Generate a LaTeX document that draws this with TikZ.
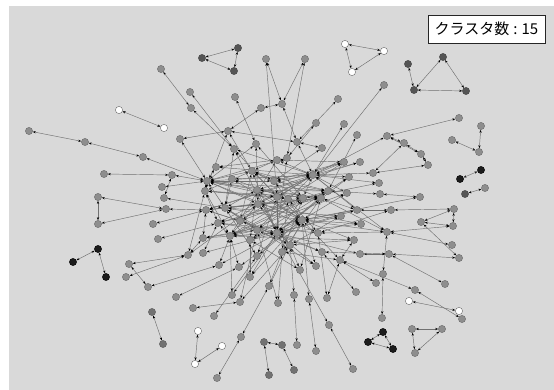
\documentclass[tikz,border=0pt]{standalone}
\usepackage{fontspec}
\newfontfamily\jpfont{Noto Sans CJK JP}
\usetikzlibrary{arrows.meta}

\definecolor{bgcol}{HTML}{D9D9D9}
\definecolor{linkgray}{HTML}{707070}
\definecolor{nodegray}{HTML}{8E8E8E}
\definecolor{rimgray}{HTML}{6A6A6A}
\definecolor{nodedark}{HTML}{555555}
\definecolor{nodemid}{HTML}{727272}
\definecolor{nodeblack}{HTML}{1C1C1C}

\pgfdeclarelayer{edges}
\pgfsetlayers{edges,main}

\tikzset{
  vtx/.style={circle, inner sep=0pt, minimum size=7.2pt, line width=0.4pt},
  gn/.style={vtx, fill=nodegray, draw=rimgray},
  dn/.style={vtx, fill=nodedark, draw=nodedark!80!black},
  mn/.style={vtx, fill=nodemid, draw=nodemid!80!black},
  bn/.style={vtx, fill=nodeblack, draw=black},
  wn/.style={vtx, fill=white, draw=rimgray},
  link/.style={draw=linkgray, line width=0.45pt,
    {Stealth[length=3pt,width=2.2pt,color=black]}-{Stealth[length=3pt,width=2.2pt,color=black]}},
  countbox/.style={draw=black!85, fill=white, line width=0.6pt,
    minimum width=117pt, minimum height=28pt, inner sep=2pt,
    font=\jpfont\fontsize{15}{15}\selectfont},
}

\begin{document}
\begin{tikzpicture}[x=1pt, y=-1pt]
    \useasboundingbox (0,0) rectangle (554,390);

    % gray vertices
    \foreach \i/\x/\y in {4/161/69, 5/266/59, 6/190/92, 7/235/97, 8/191/108, 9/261/108,
        12/29/131, 13/85/142, 14/143/157, 15/228/131, 16/180/139, 17/234/149, 18/256/144,
        19/216/167, 20/104/174, 21/172/175, 22/162/187, 23/207/181, 24/252/171, 25/232/179,
        26/277/160, 34/305/59, 35/282/104, 36/338/99, 37/384/85, 38/316/123, 39/344/124,
        40/357/135, 41/297/142, 42/322/148, 43/287/158, 45/387/136, 46/404/143, 47/421/154,
        48/428/165, 49/459/118, 50/481/126, 51/452/140, 52/479/152, 55/485/188, 57/344/162,
        58/360/162, 59/373/173, 60/379/183, 61/349/177, 62/313/175, 63/274/181, 64/328/191,
        65/347/193, 66/303/198, 67/257/190, 68/380/194, 69/420/197, 70/391/210, 71/454/209,
        72/453/226, 73/452/245, 74/459/258, 75/421/222, 76/387/232, 77/357/210, 78/361/224,
        79/341/216, 80/354/240, 81/318/233, 82/322/252, 83/360/254, 84/389/254, 85/340/260,
        86/316/266, 87/300/270, 88/383/274, 89/376/283, 90/445/284, 91/356/292, 92/415/290,
        93/294/295, 94/309/299, 95/327/298, 96/278/303, 99/462/319, 100/382/318, 101/329/325,
        105/412/329, 106/442/329, 107/415/353, 108/297/345, 109/316/351, 114/353/369,
        115/98/197, 116/166/209, 117/98/224, 118/153/224, 119/158/239, 123/129/264,
        124/126/277, 125/148/287, 126/188/255, 127/203/253, 128/219/265, 129/239/267,
        130/176/297, 131/193/308, 132/214/316, 133/232/295, 134/240/302, 135/257/256,
        136/250/277, 137/269/286, 143/241/337, 144/217/378, 146/164/198, 147/205/191,
        148/206/210, 149/225/208, 150/218/223, 151/240/221, 152/258/204, 153/230/236,
        154/203/238, 156/250/240, 158/277/197, 159/288/199, 161/321/198, 162/302/220,
        163/277/233, 164/257/230, 165/290/245, 166/282/252}
        \node[gn] (v\i) at (\x,\y) {};
    % dark vertices
    \foreach \i/\x/\y in {1/238/48, 2/202/58, 3/234/71, 30/408/64, 31/443/57,
        32/414/90, 33/466/91, 56/465/194}
        \node[dn] (v\i) at (\x,\y) {};
    \foreach \i/\x/\y in {110/282/345, 111/294/370, 112/264/342, 113/269/375,
        138/152/312, 139/163/344}
        \node[mn] (v\i) at (\x,\y) {};
    % black vertices
    \foreach \i/\x/\y in {53/460/179, 54/481/170, 102/383/332, 103/368/342,
        104/393/349, 120/98/249, 121/73/262, 122/106/277}
        \node[bn] (v\i) at (\x,\y) {};
    % white vertices
    \foreach \i/\x/\y in {10/119/110, 11/164/128, 27/345/44, 28/384/51, 29/352/72,
        97/409/301, 98/459/311, 140/198/331, 141/222/346, 142/195/364}
        \node[wn] (v\i) at (\x,\y) {};

    \node[countbox] (count) at (486.5,29) {クラスタ数\hspace{4pt}:\hspace{4pt}15};

    \begin{pgfonlayer}{edges}
    \fill[bgcol] (9,6) rectangle (554,390);
    % outer links
    \foreach \a/\b in {1/2, 1/3, 3/2, 10/11, 12/13, 13/14, 14/23, 4/8, 8/17, 6/17, 5/35,
        7/18, 9/15, 9/35, 15/16, 15/41, 15/147, 15/24, 16/23, 19/26, 19/23, 20/21, 21/23,
        22/23, 21/146, 115/116, 115/117, 117/116, 116/148, 118/148, 119/150, 120/121,
        120/122, 123/126, 123/125, 124/126, 125/128, 130/129, 131/134, 132/135, 138/139,
        140/142, 141/142, 143/144, 143/137, 112/110, 112/113, 110/111, 108/93, 109/94,
        114/101, 101/163, 102/103, 102/104, 103/104, 105/106, 105/107, 106/107, 97/98,
        99/92, 92/85, 100/88, 88/76, 90/84, 91/82, 89/85, 71/70, 71/72, 75/72, 73/76,
        72/76, 74/75, 71/75, 70/77, 77/62, 77/162, 83/84, 84/74, 49/45, 45/46, 46/47,
        45/47, 47/48, 48/59, 46/59, 45/62, 50/52, 51/52, 53/54, 55/56, 68/69, 59/62,
        60/62, 57/62, 58/62, 39/62, 40/64, 38/43, 36/41, 37/62, 34/35, 35/41, 41/42,
        41/62, 27/28, 27/29, 29/28, 30/32, 31/32, 31/33, 33/32, 26/57, 42/63}
        \draw[link] (v\a) -- (v\b);
    % core links
    \foreach \a/\b in {23/147, 23/24, 23/62, 23/63, 23/149, 23/152, 23/158, 23/66, 23/43,
        23/18, 23/64, 62/63, 62/158, 62/152, 62/164, 62/66, 62/65, 62/61, 62/150, 62/151,
        62/26, 62/17, 62/25, 147/24, 147/159, 147/161, 147/150, 147/153, 147/126,
        148/66, 148/62, 148/151, 148/154, 148/163, 148/58, 149/161, 149/162, 149/165,
        149/67, 149/25, 149/17, 149/135, 149/164, 150/163, 150/161, 150/81, 150/153,
        150/127, 151/66, 151/82, 151/24, 152/161, 152/153, 152/165, 152/81, 152/18,
        152/148, 153/162, 153/163, 153/66, 153/64, 153/128, 153/129, 153/133, 153/26,
        154/164, 154/162, 154/126, 156/162, 156/136, 156/67, 156/61, 158/163, 158/147,
        158/135, 158/17, 159/81, 159/166, 159/25, 66/163, 66/164, 66/137, 66/24,
        161/163, 161/24, 161/67, 161/87, 161/166, 161/77, 162/63, 162/67, 162/65,
        162/79, 162/80, 162/86, 162/137, 162/78, 162/76, 162/24, 162/136, 163/64,
        163/83, 163/82, 163/86, 163/67, 163/24, 163/79, 163/133, 164/165, 164/96,
        164/134, 165/79, 165/87, 165/134, 166/85, 166/96, 24/63, 24/64, 24/26, 63/57,
        63/64, 67/64, 67/57, 81/76, 81/70, 82/84, 85/80, 85/162, 76/161, 76/62,
        78/163, 80/165, 68/64, 69/162, 60/66, 87/156, 94/162, 95/81, 95/85, 93/165,
        146/149, 23/161, 23/162, 148/161, 154/163, 126/152, 127/163, 128/162,
        129/162, 135/162, 136/163, 17/163, 18/66, 19/62, 25/162, 43/163, 57/153,
        61/163, 65/153, 79/149, 86/149, 64/150, 77/163, 78/152, 80/153, 5/158, 34/43}
        \draw[link] (v\a) -- (v\b);
    \end{pgfonlayer}
\end{tikzpicture}
\end{document}
